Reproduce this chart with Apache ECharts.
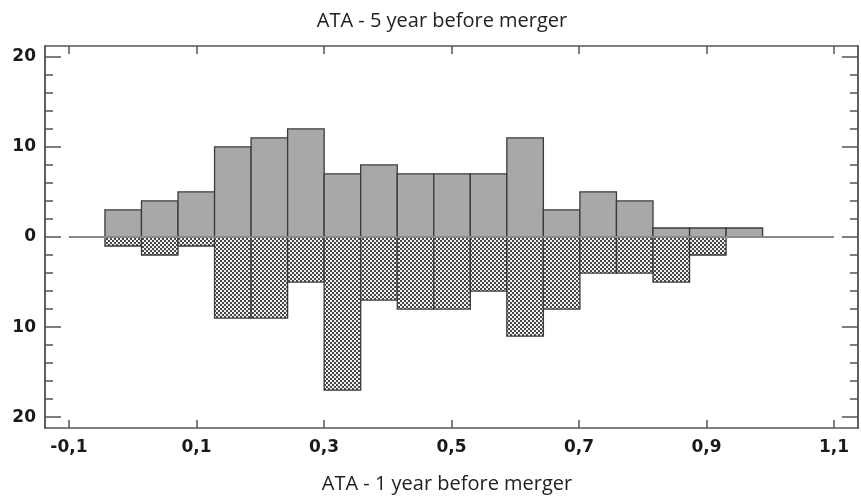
<!DOCTYPE html>
<html>
<head>
<meta charset="utf-8">
<script src="https://cdn.jsdelivr.net/npm/echarts@6/dist/echarts.min.js"></script>
<style>
  html, body { margin: 0; padding: 0; background: #fff; }
  #chart { width: 861px; height: 500px; }
</style>
</head>
<body>
<div id="chart"></div>
<script>
// Histogram bins shared by both distributions
const binStart = -0.0435;
const binWidth = 0.0573;

// Counts per bin: ATA five years before the merger (drawn upward)
const countsFiveYear = [3, 4, 5, 10, 11, 12, 7, 8, 7, 7, 7, 11, 3, 5, 4, 1, 1, 1];
// Counts per bin: ATA one year before the merger (drawn downward)
const countsOneYear = [1, 2, 1, 9, 9, 5, 17, 7, 8, 8, 6, 11, 8, 4, 4, 5, 2];

// Axis ticks
const xTicks = [-0.1, 0.1, 0.3, 0.5, 0.7, 0.9, 1.1];
const yMajorTicks = [-20, -10, 0, 10, 20];
const yMinorTicks = [-20, -18, -16, -14, -12, -10, -8, -6, -4, -2, 0, 2, 4, 6, 8, 10, 12, 14, 16, 18, 20];

const titleTop = 'ATA - 5 year before merger';
const titleBottom = 'ATA - 1 year before merger';

const xRange = [-0.1375, 1.1375];
const yRange = [-21.2, 21.2];

// Checkered fill for the downward bars
function makeChecker() {
  const c = document.createElement('canvas');
  c.width = 4; c.height = 4;
  const g = c.getContext('2d');
  g.fillStyle = '#f2f2f2';
  g.fillRect(0, 0, 4, 4);
  g.fillStyle = '#474747';
  g.fillRect(0, 0, 2, 2);
  g.fillRect(2, 2, 2, 2);
  return c;
}
const checker = makeChecker();

function binData(counts, sign) {
  return counts.map((c, i) => [binStart + i * binWidth, binStart + (i + 1) * binWidth, sign * c]);
}

function barRenderer(fill) {
  return function (params, api) {
    const a = api.coord([api.value(0), 0]);
    const b = api.coord([api.value(1), api.value(2)]);
    const y = Math.min(a[1], b[1]);
    const h = Math.abs(a[1] - b[1]);
    return {
      type: 'rect',
      shape: { x: a[0], y: y, width: b[0] - a[0], height: h },
      style: { fill: fill, stroke: '#3a3a3a', lineWidth: 1.3 }
    };
  };
}

const axisLineStyle = { show: true, onZero: false, lineStyle: { color: '#555', width: 1.5 } };
const tickLabelFont = { fontFamily: 'DejaVu Sans', fontWeight: 'bold', fontSize: 17, color: '#1a1a1a' };

function yAxisDef(position, ticks, len, labels) {
  return {
    type: 'value', position: position, min: yRange[0], max: yRange[1],
    axisLine: axisLineStyle,
    splitLine: { show: false },
    axisTick: { show: true, inside: true, length: len, customValues: ticks, lineStyle: { color: '#555', width: 1.5 } },
    axisLabel: labels ? Object.assign({ show: true, margin: 9, customValues: yMajorTicks,
      formatter: v => String(Math.abs(Math.round(v))) }, tickLabelFont) : { show: false }
  };
}

const titleFont = { fontFamily: 'Open Sans', fontWeight: 'normal', fontSize: 20, color: '#222' };

const chart = echarts.init(document.getElementById('chart'), null, { renderer: 'canvas' });
chart.setOption({
  animation: false,
  backgroundColor: '#ffffff',
  title: [
    { text: titleTop, left: 437, top: 6, textAlign: 'center', textStyle: titleFont },
    { text: titleBottom, left: 442, top: 469, textAlign: 'center', textStyle: titleFont }
  ],
  grid: { left: 45, right: 3, top: 46, bottom: 72, containLabel: false },
  xAxis: [
    { type: 'value', position: 'bottom', min: xRange[0], max: xRange[1],
      axisLine: axisLineStyle, splitLine: { show: false },
      axisTick: { show: true, inside: true, length: 8, customValues: xTicks, lineStyle: { color: '#555', width: 1.5 } },
      axisLabel: Object.assign({ show: true, margin: 11, customValues: xTicks,
        formatter: v => v.toFixed(1).replace('.', ',') }, tickLabelFont) },
    { type: 'value', position: 'top', min: xRange[0], max: xRange[1],
      axisLine: axisLineStyle, splitLine: { show: false },
      axisTick: { show: true, inside: true, length: 8, customValues: xTicks, lineStyle: { color: '#555', width: 1.5 } },
      axisLabel: { show: false } }
  ],
  yAxis: [
    yAxisDef('left', yMajorTicks, 16, true),
    yAxisDef('left', yMinorTicks, 8, false),
    yAxisDef('right', yMajorTicks, 16, false),
    yAxisDef('right', yMinorTicks, 8, false)
  ],
  series: [
    { type: 'line', xAxisIndex: 0, yAxisIndex: 0, data: [], z: 1, silent: true,
      markLine: { silent: true, symbol: 'none', label: { show: false },
        lineStyle: { color: '#8a8a8a', width: 2, type: 'solid' },
        data: [[{ coord: [xTicks[0], 0] }, { coord: [xTicks[xTicks.length - 1], 0] }]] } },
    { name: titleTop, type: 'custom', xAxisIndex: 0, yAxisIndex: 0, z: 3,
      renderItem: barRenderer('#a6a8aa'), data: binData(countsFiveYear, 1) },
    { name: titleBottom, type: 'custom', xAxisIndex: 0, yAxisIndex: 0, z: 3,
      renderItem: barRenderer({ image: checker, repeat: 'repeat' }), data: binData(countsOneYear, -1) }
  ]
});
</script>
</body>
</html>
